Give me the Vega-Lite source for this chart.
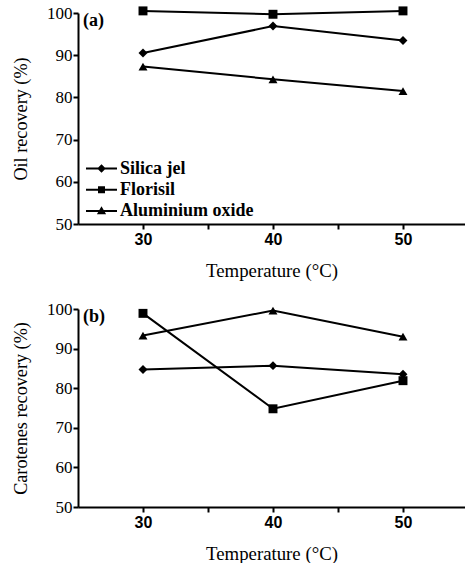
{
  "$schema": "https://vega.github.io/schema/vega-lite/v6.json",
  "padding": {"left": 11, "top": 4, "right": 0, "bottom": 0},
  "background": "white",
  "spacing": 20,
  "config": {
    "view": {"stroke": null},
    "font": "Liberation Serif",
    "axis": {
      "grid": false,
      "domainColor": "black",
      "domainWidth": 2,
      "tickColor": "black",
      "tickWidth": 2,
      "tickSize": 5,
      "labelColor": "black",
      "titleColor": "black",
      "titleFont": "Liberation Serif",
      "titleFontWeight": "normal",
      "labelOverlap": false
    },
    "axisX": {
      "labelFont": "Liberation Sans",
      "labelFontWeight": "bold",
      "labelFontSize": 16,
      "labelPadding": 2,
      "titlePadding": 14,
      "titleFontSize": 18.8
    },
    "axisY": {
      "labelFont": "Liberation Serif",
      "labelFontSize": 17,
      "labelPadding": 1,
      "titlePadding": 16,
      "titleFontSize": 18.2
    }
  },
  "datasets": {
    "oil": [
      {"temp": 30, "value": 90.5, "adsorbent": "Silica jel"},
      {"temp": 40, "value": 96.9, "adsorbent": "Silica jel"},
      {"temp": 50, "value": 93.5, "adsorbent": "Silica jel"},
      {"temp": 30, "value": 100.5, "adsorbent": "Florisil"},
      {"temp": 40, "value": 99.7, "adsorbent": "Florisil"},
      {"temp": 50, "value": 100.5, "adsorbent": "Florisil"},
      {"temp": 30, "value": 87.3, "adsorbent": "Aluminium oxide"},
      {"temp": 40, "value": 84.3, "adsorbent": "Aluminium oxide"},
      {"temp": 50, "value": 81.5, "adsorbent": "Aluminium oxide"}
    ],
    "car": [
      {"temp": 30, "value": 84.7, "adsorbent": "Silica jel"},
      {"temp": 40, "value": 85.7, "adsorbent": "Silica jel"},
      {"temp": 50, "value": 83.5, "adsorbent": "Silica jel"},
      {"temp": 30, "value": 98.9, "adsorbent": "Florisil"},
      {"temp": 40, "value": 74.8, "adsorbent": "Florisil"},
      {"temp": 50, "value": 81.9, "adsorbent": "Florisil"},
      {"temp": 30, "value": 93.3, "adsorbent": "Aluminium oxide"},
      {"temp": 40, "value": 99.6, "adsorbent": "Aluminium oxide"},
      {"temp": 50, "value": 93.0, "adsorbent": "Aluminium oxide"}
    ],
    "labA": [{"temp": 25, "value": 100, "label": "(a)"}],
    "labB": [{"temp": 25, "value": 100, "label": "(b)"}]
  },
  "resolve": {"legend": {"shape": "independent"}},
  "vconcat": [
    {
      "width": 387,
      "height": 211,
      "resolve": {"scale": {"shape": "independent"}},
      "layer": [
        {
          "data": {"name": "oil"},
          "mark": {"type": "line", "color": "black", "strokeWidth": 2},
          "encoding": {
            "x": {"field": "temp", "type": "quantitative", "scale": {"domain": [25, 54.77], "nice": false, "zero": false},
              "axis": {"title": "Temperature (°C)", "values": [30, 35, 40, 45, 50], "tickCount": 20, "labelOverlap": false, "labelExpr": "datum.value % 10 == 0 ? datum.label : ''"}},
            "y": {"field": "value", "type": "quantitative", "scale": {"domain": [50, 100], "nice": false, "zero": false},
              "axis": {"title": "Oil recovery (%)", "values": [50, 60, 70, 80, 90, 100], "tickCount": 20, "labelOverlap": false}},
            "detail": {"field": "adsorbent"}
          }
        },
        {
          "data": {"name": "oil"},
          "mark": {"type": "point", "filled": true, "color": "black", "size": 80, "opacity": 1},
          "encoding": {
            "x": {"field": "temp", "type": "quantitative"},
            "y": {"field": "value", "type": "quantitative"},
            "shape": {
              "field": "adsorbent", "type": "nominal",
              "scale": {"domain": ["Silica jel", "Florisil", "Aluminium oxide"], "range": ["diamond", "square", "triangle-up"]},
              "legend": null
            }
          }
        },
        {
          "data": {"name": "oil"},
          "mark": {"type": "point", "filled": true, "color": "black", "size": 1, "opacity": 0},
          "encoding": {
            "x": {"field": "temp", "type": "quantitative"},
            "y": {"field": "value", "type": "quantitative"},
            "shape": {
              "field": "adsorbent", "type": "nominal",
              "scale": {"domain": ["Silica jel", "Florisil", "Aluminium oxide"],
                "range": ["M-1.476,-0.095H1.476V0.095H-1.476ZM-0.41,0L0,-0.41L0.41,0L0,0.41Z", "M-1.476,-0.095H1.476V0.095H-1.476ZM-0.333,-0.333H0.333V0.333H-0.333Z", "M-1.476,-0.095H1.476V0.095H-1.476ZM0,-0.44L0.44,0.32H-0.44Z"]},
              "legend": {
                "title": null,
                "orient": "none",
                "legendX": 13,
                "legendY": 145,
                "symbolSize": 441,
                "symbolOpacity": 1,
                "symbolFillColor": "black",
                "symbolStrokeWidth": 0,
                "labelFont": "Liberation Serif",
                "labelFontWeight": "bold",
                "labelFontSize": 18,
                "labelColor": "black",
                "labelOffset": 8,
                "rowPadding": 1.2
              }
            }
          }
        },
        {
          "data": {"name": "labA"},
          "mark": {"type": "text", "align": "left", "baseline": "middle", "dx": 5, "dy": 8, "font": "Liberation Serif", "fontWeight": "bold", "fontSize": 18, "color": "black"},
          "encoding": {
            "x": {"field": "temp", "type": "quantitative"},
            "y": {"field": "value", "type": "quantitative"},
            "text": {"field": "label"}
          }
        }
      ]
    },
    {
      "width": 387,
      "height": 198,
      "layer": [
        {
          "data": {"name": "car"},
          "mark": {"type": "line", "color": "black", "strokeWidth": 2},
          "encoding": {
            "x": {"field": "temp", "type": "quantitative", "scale": {"domain": [25, 54.77], "nice": false, "zero": false},
              "axis": {"title": "Temperature (°C)", "values": [30, 35, 40, 45, 50], "tickCount": 20, "labelOverlap": false, "labelExpr": "datum.value % 10 == 0 ? datum.label : ''"}},
            "y": {"field": "value", "type": "quantitative", "scale": {"domain": [50, 100], "nice": false, "zero": false},
              "axis": {"title": "Carotenes recovery (%)", "values": [50, 60, 70, 80, 90, 100], "tickCount": 20, "labelOverlap": false}},
            "detail": {"field": "adsorbent"}
          }
        },
        {
          "data": {"name": "car"},
          "mark": {"type": "point", "filled": true, "color": "black", "size": 80, "opacity": 1},
          "encoding": {
            "x": {"field": "temp", "type": "quantitative"},
            "y": {"field": "value", "type": "quantitative"},
            "shape": {
              "field": "adsorbent", "type": "nominal",
              "scale": {"domain": ["Silica jel", "Florisil", "Aluminium oxide"], "range": ["diamond", "square", "triangle-up"]},
              "legend": null
            }
          }
        },
        {
          "data": {"name": "labB"},
          "mark": {"type": "text", "align": "left", "baseline": "middle", "dx": 5, "dy": 8, "font": "Liberation Serif", "fontWeight": "bold", "fontSize": 18, "color": "black"},
          "encoding": {
            "x": {"field": "temp", "type": "quantitative"},
            "y": {"field": "value", "type": "quantitative"},
            "text": {"field": "label"}
          }
        }
      ]
    }
  ]
}
